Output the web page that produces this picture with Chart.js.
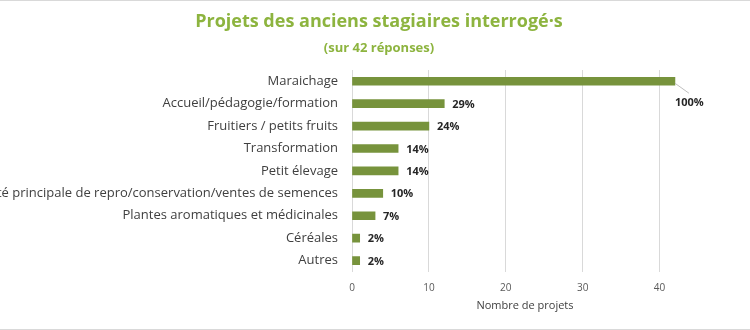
<!DOCTYPE html>
<html lang="fr">
<head>
<meta charset="utf-8">
<title>Projets des anciens stagiaires</title>
<script src="https://cdn.jsdelivr.net/npm/chart.js@4/dist/chart.umd.min.js"></script>
<style>
  html, body { margin: 0; padding: 0; background: #fff; }
  .frame {
    width: 750px; height: 330px; box-sizing: border-box;
    border-top: 1px solid #d9d9d9; border-bottom: 1px solid #d9d9d9;
    position: relative;
  }
  .titles {
    position: absolute; left: 0; right: 0; top: 0;
    text-align: center; color: #8db43f; font-family: "Open Sans", sans-serif; font-weight: bold;
  }
  .titles h1 { margin: 0; position: absolute; left: 8px; right: 0; top: 8px; font-size: 18px; line-height: 22px; }
  .titles h2 { margin: 0; position: absolute; left: 8px; right: 0; top: 38px; font-size: 13px; line-height: 16px; }
  canvas { display: block; }
</style>
</head>
<body>
<div class="frame">
  <canvas id="chart" width="750" height="327"></canvas>
  <div class="titles">
    <h1>Projets des anciens stagiaires interrogé·s</h1>
    <h2>(sur 42 réponses)</h2>
  </div>
</div>
<script>
// valeurs (42 réponses)
const categories = [
  "Maraichage",
  "Accueil/pédagogie/formation",
  "Fruitiers / petits fruits",
  "Transformation",
  "Petit élevage",
  "Activité principale de repro/conservation/ventes de semences",
  "Plantes aromatiques et médicinales",
  "Céréales",
  "Autres"
];
const projectCounts = [42, 12, 10, 6, 6, 4, 3, 1, 1];
const pctLabels = ["100%", "29%", "24%", "14%", "14%", "10%", "7%", "2%", "2%"];
const xTicks = [0, 10, 20, 30, 40];

const GREEN = "#77933c";

// étiquettes de données (pas de plugin datalabels dispo)
const barLabels = {
  id: "barLabels",
  afterDatasetsDraw(chart) {
    const ctx = chart.ctx;
    const area = chart.chartArea;
    const meta = chart.getDatasetMeta(0);
    ctx.save();
    ctx.font = "bold 11px 'Open Sans', sans-serif";
    ctx.fillStyle = "#262626";
    ctx.textBaseline = "middle";
    ctx.textAlign = "left";
    meta.data.forEach((bar, i) => {
      const txt = pctLabels[i];
      const w = ctx.measureText(txt).width;
      if (bar.x + 8 + w > area.right) {
        // trop long : étiquette décalée sous la barre avec trait de rappel
        ctx.strokeStyle = "#bfbfbf";
        ctx.lineWidth = 1;
        ctx.beginPath();
        ctx.moveTo(bar.x, bar.y + 2);
        ctx.lineTo(bar.x + 14, bar.y + 12);
        ctx.stroke();
        ctx.fillText(txt, bar.x, bar.y + 22);
      } else {
        ctx.fillText(txt, bar.x + 8, bar.y + 1);
      }
    });
    ctx.restore();
  }
};

new Chart(document.getElementById("chart"), {
  type: "bar",
  data: {
    labels: categories,
    datasets: [{
      data: projectCounts,
      backgroundColor: GREEN,
      borderWidth: 0,
      barThickness: 8
    }]
  },
  options: {
    indexAxis: "y",
    responsive: false,
    animation: false,
    layout: { padding: { top: 69, right: 52, bottom: 16, left: 0 } },
    plugins: {
      legend: { display: false },
      tooltip: { enabled: false }
    },
    scales: {
      x: {
        min: 0,
        max: 45,
        afterBuildTicks: scale => { scale.ticks = xTicks.map(v => ({ value: v })); },
        grid: { color: "#d9d9d9", drawTicks: false },
        border: { display: false },
        ticks: {
          color: "#595959",
          font: { family: "'Open Sans', sans-serif", size: 10 },
          padding: 10
        },
        title: {
          display: true,
          text: "Nombre de projets",
          color: "#404040",
          font: { family: "'Open Sans', sans-serif", size: 11 },
          padding: { top: -5, bottom: 0 }
        }
      },
      y: {
        afterFit: scale => { scale.width = 352; },
        grid: { display: false, drawTicks: false },
        border: { display: true, color: "#d9d9d9" },
        ticks: {
          color: "#404040",
          font: { family: "'Open Sans', sans-serif", size: 13 },
          padding: 14,
          autoSkip: false
        }
      }
    }
  },
  plugins: [barLabels]
});
</script>
</body>
</html>
